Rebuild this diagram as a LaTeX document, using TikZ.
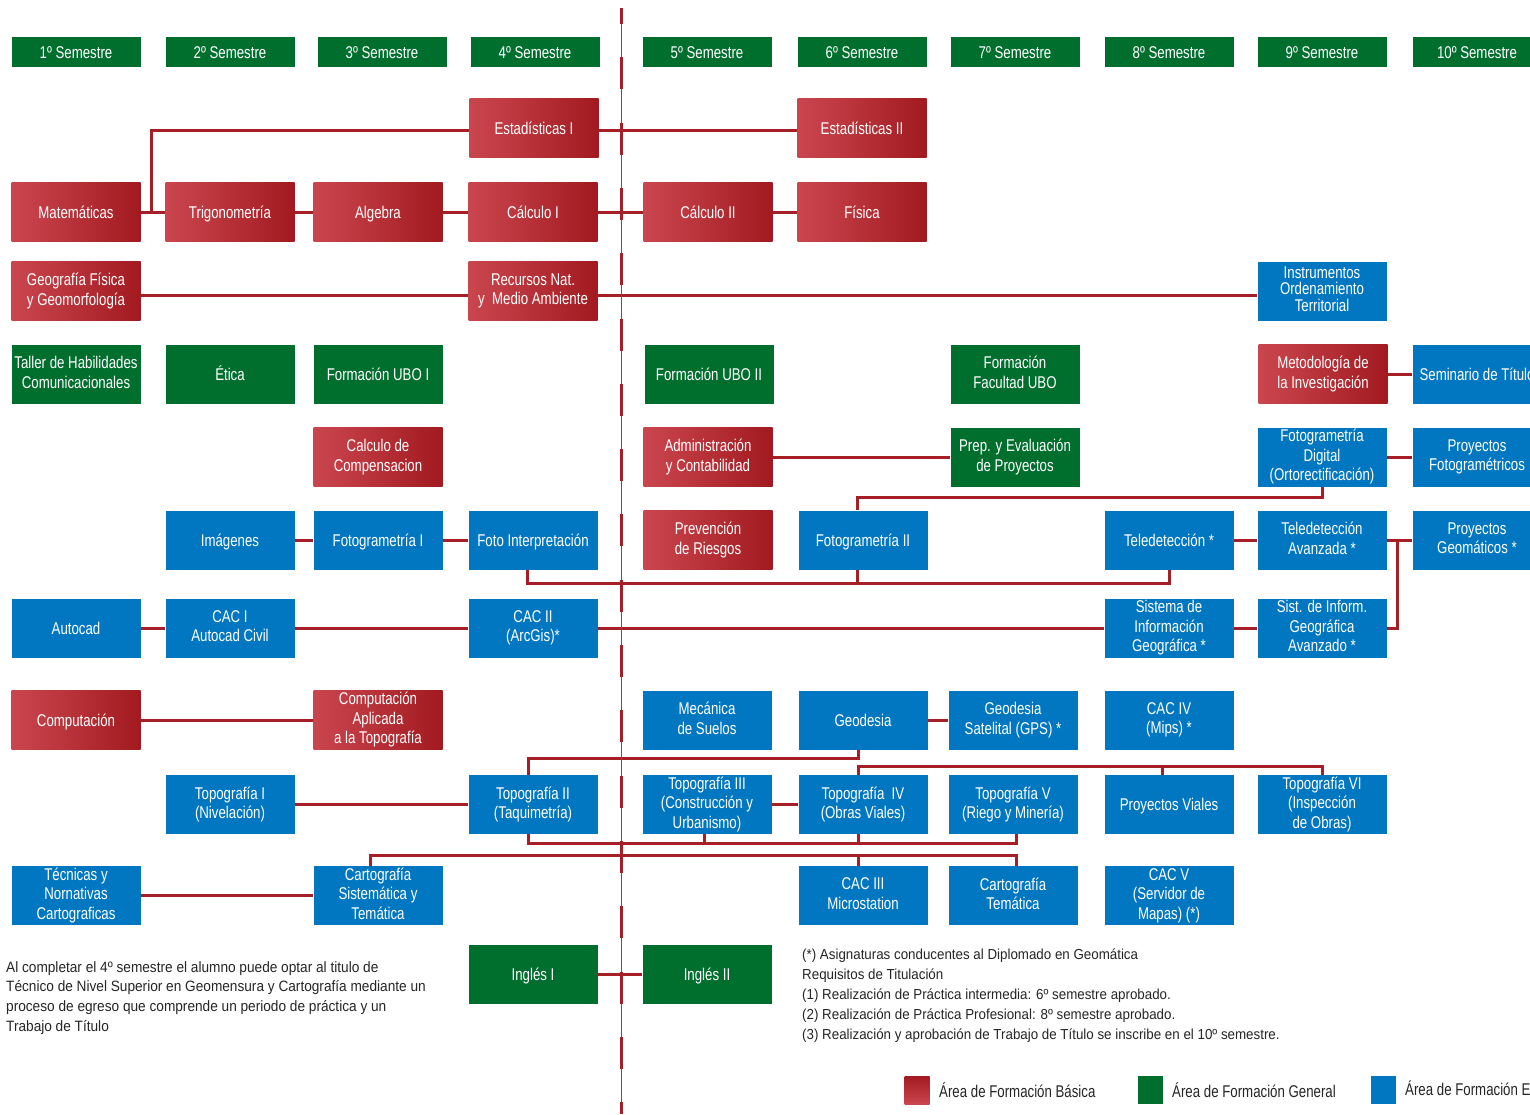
\documentclass[tikz,border=0pt]{standalone}
\usepackage{fontspec}
\setmainfont{Liberation Sans}
\newfontfamily\boxfont{Liberation Sans}[FakeStretch=0.78]
\newfontfamily\notefont{Liberation Sans}[FakeStretch=0.91]
\newfontfamily\reqfont{Liberation Sans}[FakeStretch=0.92]
\newcommand\boxstrut{\rule[-3.8pt]{0pt}{19.8pt}}
\definecolor{rojo}{RGB}{162,26,32}
\definecolor{rojoclaro}{RGB}{202,70,78}
\definecolor{verde}{RGB}{0,111,46}
\definecolor{azul}{RGB}{0,119,192}
\definecolor{linea}{RGB}{166,30,38}

\begin{document}
\begin{tikzpicture}[x=1pt,y=-1pt,
  curso/.style={minimum width=129,minimum height=59,inner sep=0,align=center,text=white,
    font=\boxfont\fontsize{17}{19.5}\selectfont,
    execute at begin node=\boxstrut,execute at end node=\boxstrut},
  bas/.style={curso,left color=rojoclaro,right color=rojo},
  gen/.style={curso,fill=verde},
  esp/.style={curso,fill=azul},
  semestre/.style={gen,minimum height=30},
  link/.style={draw=linea,line width=3}]

\useasboundingbox (0,0) rectangle (1530,1114);
\fill[white] (0,0) rectangle (1530,1114);
\clip (0,0) rectangle (1530,1114);

\foreach \x/\n in {76/1,230/2,382/3,535/4,707/5,862/6,1015/7,1169/8,1322/9,1477/10}
  \node[semestre] (s\n) at (\x,52) {\n{}º Semestre};

\node[bas] (est1) at (534,128) {Estadísticas I};
\node[bas] (est2) at (862,128) {Estadísticas II};

\node[bas] (mat) at (76,212) {Matemáticas};
\node[bas] (trig) at (230,212) {Trigonometría};
\node[bas] (alg) at (378,212) {Algebra};
\node[bas] (calc1) at (533,212) {Cálculo I};
\node[bas] (calc2) at (708,212) {Cálculo II};
\node[bas] (fis) at (862,212) {Física};

\node[bas] (geo) at (76,291) {Geografía Física\\y Geomorfología};
\node[bas] (rec) at (533,291) {Recursos Nat.\\y\ \ Medio Ambiente};
\node[esp,font=\boxfont\fontsize{17}{16.5}\selectfont] (inst) at (1322,291) {Instrumentos\\Ordenamiento\\Territorial};

\node[gen] (taller) at (76,374) {Taller de Habilidades\\Comunicacionales};
\node[gen] (etica) at (230,374) {Ética};
\node[gen] (ubo1) at (378,374) {Formación UBO I};
\node[gen] (ubo2) at (709,374) {Formación UBO II};
\node[gen] (facu) at (1015,374) {Formación\\Facultad UBO};
\node[bas] (met) at (1323,374) {Metodología de\\la Investigación};
\node[esp] (sem) at (1477,374) {Seminario de Título};

\node[bas] (comp) at (378,457) {Calculo de\\Compensacion};
\node[bas] (adm) at (708,457) {Administración\\y Contabilidad};
\node[gen] (prep) at (1015,457) {Prep. y Evaluación\\de Proyectos};
\node[esp] (fdig) at (1322,457) {Fotogrametría\\Digital\\(Ortorectificación)};
\node[esp] (pfot) at (1477,457) {Proyectos\\Fotogramétricos};

\node[esp] (img) at (230,540) {Imágenes};
\node[esp] (fot1) at (378,540) {Fotogrametría I};
\node[esp] (fint) at (533,540) {Foto Interpretación};
\node[bas] (prev) at (708,540) {Prevención\\de Riesgos};
\node[esp] (fot2) at (863,540) {Fotogrametría II};
\node[esp] (tel) at (1169,540) {Teledetección *};
\node[esp] (tela) at (1322,540) {Teledetección\\Avanzada *};
\node[esp] (pgeo) at (1477,540) {Proyectos\\Geomáticos *};

\node[esp] (acad) at (76,628) {Autocad};
\node[esp] (cac1) at (230,628) {CAC I\\Autocad Civil};
\node[esp] (cac2) at (533,628) {CAC II\\(ArcGis)*};
\node[esp] (sig) at (1169,628) {Sistema de\\Información\\Geográfica *};
\node[esp] (siga) at (1322,628) {Sist. de Inform.\\Geográfica\\Avanzado *};

\node[bas] (cmp) at (76,720) {Computación};
\node[bas] (cmpa) at (378,720) {Computación\\Aplicada\\a la Topografía};
\node[esp] (mec) at (707,720) {Mecánica\\de Suelos};
\node[esp] (gds) at (863,720) {Geodesia};
\node[esp] (gps) at (1013,720) {Geodesia\\Satelital (GPS) *};
\node[esp] (cac4) at (1169,720) {CAC IV\\(Mips) *};

\node[esp] (top1) at (230,804.5) {Topografía I\\(Nivelación)};
\node[esp] (top2) at (533,804.5) {Topografía II\\(Taquimetría)};
\node[esp] (top3) at (707,804.5) {Topografía III\\(Construcción y\\Urbanismo)};
\node[esp] (top4) at (863,804.5) {Topografía\ \ IV\\(Obras Viales)};
\node[esp] (top5) at (1013,804.5) {Topografía V\\(Riego y Minería)};
\node[esp] (pvia) at (1169,804.5) {Proyectos Viales};
\node[esp] (top6) at (1322,804.5) {Topografía VI\\(Inspección\\de Obras)};

\node[esp] (tec) at (76,895.5) {Técnicas y\\Nornativas\\Cartograficas};
\node[esp] (cart) at (378,895.5) {Cartografía\\Sistemática y\\Temática};
\node[esp] (cac3) at (863,895.5) {CAC III\\Microstation};
\node[esp] (cartt) at (1013,895.5) {Cartografía\\Temática};
\node[esp] (cac5) at (1169,895.5) {CAC V\\(Servidor de\\Mapas) (*)};

\node[gen] (ing1) at (533,974.5) {Inglés I};
\node[gen] (ing2) at (707,974.5) {Inglés II};

\draw[link] (mat) -- (trig);
\draw[link] (mat.east) -- ++(11,0) |- ([yshift=-2]est1.west);
\draw[link] ([yshift=-2]est1.east) -- ([yshift=-2]est2.west);
\draw[link] (trig) -- (alg);
\draw[link] (alg) -- (calc1);
\draw[link] (calc1) -- (calc2);
\draw[link] (calc2) -- (fis);
\draw[link] ([yshift=-4]geo.east) -- ([yshift=-4]rec.west);
\draw[link] ([yshift=-4]rec.east) -- ([yshift=-4]inst.west);
\draw[link] (met) -- (sem);
\draw[link] (adm) -- (prep);
\draw[link] (fdig) -- (pfot);
\draw[link] (fdig.south) -- ++(0,10.5) -| ([xshift=-6]fot2.north);
\draw[link] (img) -- (fot1);
\draw[link] (fot1) -- (fint);
\draw[link] ([xshift=-6]fint.south) -- ++(0,13.5) -| (tel.south);
\draw[link] ([xshift=-6]fot2.south) -- ++(0,13.5);
\draw[link] (tel) -- (tela);
\draw[link] (tela) -- (pgeo);
\draw[link] (siga.east) -- ++(11,0) |- (pgeo.west);
\draw[link] (acad) -- (cac1);
\draw[link] (cac1) -- (cac2);
\draw[link] (cac2) -- (sig);
\draw[link] (sig) -- (siga);
\draw[link] (cmp) -- (cmpa);
\draw[link] (gds) -- (gps);
\draw[link] ([xshift=-5]gds.south) -- ++(0,9) -| ([xshift=-5]top2.north);
\draw[link] (top1) -- (top2);
\draw[link] (top3) -- (top4);
\draw[link] ([xshift=-5]top4.north) -- ++(0,-8) -| (top6.north);
\draw[link] ([xshift=-7]pvia.north) -- ++(0,-8);
\draw[link] ([xshift=-5]top2.south) -- ++(0,9) -| ([xshift=3]top5.south);
\draw[link] ([xshift=-3]top3.south) -- ++(0,9);
\draw[link] ([xshift=-5]top4.south) -- ++(0,9);
\draw[link] ([xshift=-8]cart.north) -- ++(0,-10) -| ([xshift=3]cartt.north);
\draw[link] ([xshift=-5]cac3.north) -- ++(0,-10);
\draw[link] (tec) -- (cart);
\draw[link] (ing1) -- (ing2);

\draw[black!65,line width=1] (621,8) -- (621,1114);
\draw[linea,line width=3,dash pattern=on 32 off 33.3,dash phase=16] (621,8) -- (621,1114);

\node[anchor=north west,align=left,inner sep=0,text=black!85,
  font=\notefont\fontsize{15}{19.7}\selectfont] (nota) at (6,961)
  {Al completar el 4º semestre el alumno puede optar al titulo de\\
   Técnico de Nivel Superior en Geomensura y Cartografía mediante un\\
   proceso de egreso que comprende un periodo de práctica y un\\
   Trabajo de Título};
\node[anchor=north west,align=left,inner sep=0,text=black!85,
  font=\reqfont\fontsize{14.5}{19.8}\selectfont] (req) at (802,949)
  {(*) Asignaturas conducentes al Diplomado en Geomática\\
   Requisitos de Titulación\\
   (1) Realización de Práctica intermedia: 6º semestre aprobado.\\
   (2) Realización de Práctica Profesional: 8º semestre aprobado.\\
   (3) Realización y aprobación de Trabajo de Título se inscribe en el 10º semestre.};

\node[minimum width=25,minimum height=28,inner sep=0,top color=rojo,bottom color=rojoclaro] (lbas) at (917,1090) {};
\node[anchor=west,inner sep=0,text=black!85,font=\boxfont\fontsize{17}{19.5}\selectfont] (tbas) at (939,1090) {Área de Formación Básica};
\node[minimum width=25,minimum height=28,inner sep=0,fill=verde] (lgen) at (1150,1090) {};
\node[anchor=west,inner sep=0,text=black!85,font=\boxfont\fontsize{17}{19.5}\selectfont] (tgen) at (1172,1090) {Área de Formación General};
\node[minimum width=25,minimum height=28,inner sep=0,fill=azul] (lesp) at (1383,1090) {};
\node[anchor=west,inner sep=0,text=black!85,font=\boxfont\fontsize{17}{19.5}\selectfont] (tesp) at (1405,1090) {Área de Formación Específica};

\end{tikzpicture}
\end{document}
